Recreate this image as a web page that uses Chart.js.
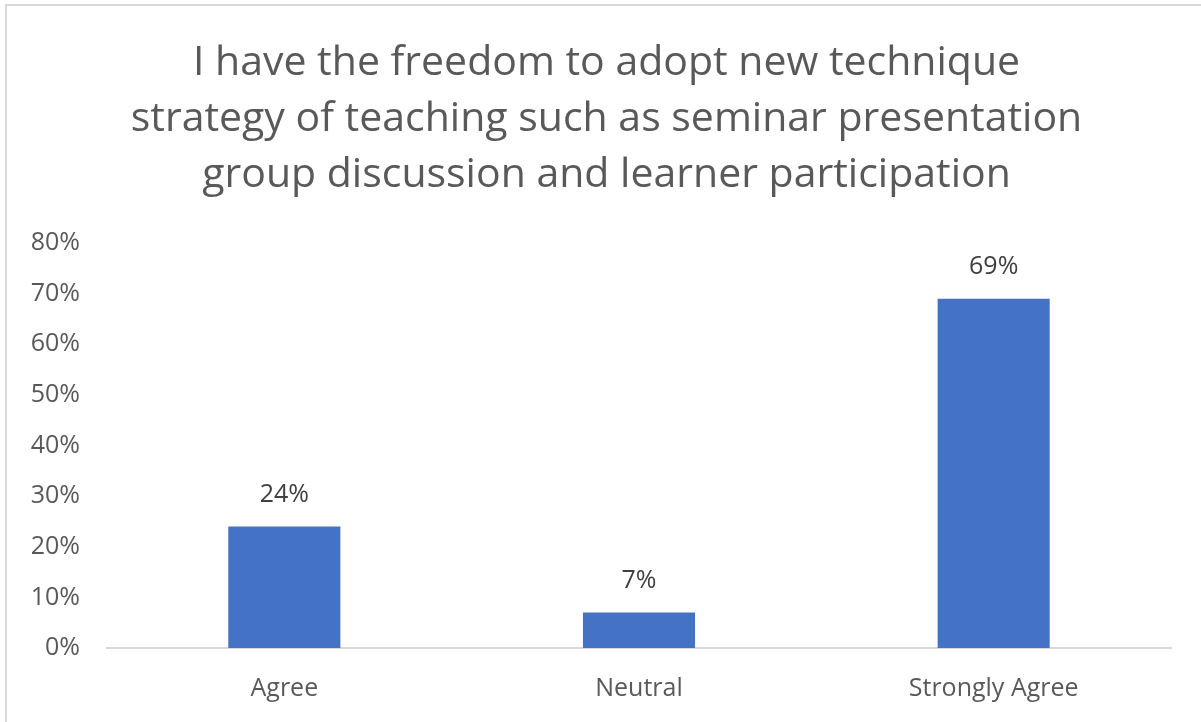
<!DOCTYPE html>
<html>
<head>
<meta charset="utf-8">
<script src="https://cdn.jsdelivr.net/npm/chart.js@4"></script>
<style>
  body { margin: 0; background: #fff; }
  #wrap { position: absolute; left: 0; top: 0; width: 1201px; height: 722px; }
  #lineTop { position: absolute; left: 5px; top: 4px; width: 1196px; height: 2px; background: #d9d9d9; }
  #lineLeft { position: absolute; left: 5px; top: 4px; width: 2px; height: 718px; background: #d9d9d9; }
</style>
</head>
<body>
<div id="wrap"><canvas id="grafico" width="1201" height="722"></canvas></div>
<div id="lineTop"></div>
<div id="lineLeft"></div>
<script>
// dados do grafico
const categorias = ["Agree", "Neutral", "Strongly Agree"];
const valores = [24, 7, 69];
const titulo = [
  "I have the freedom to adopt new technique",
  "strategy of teaching such as seminar presentation",
  "group discussion and learner participation"
];

const fonte = "'Open Sans', 'Noto Sans', sans-serif";

// rotulos em cima das barras
const rotulos = {
  id: "rotulos",
  afterLayout(chart) {
    // centraliza o titulo na moldura e nao so na area do grafico
    if (chart.titleBlock) chart.titleBlock.left = 42;
  },
  afterDatasetsDraw(chart) {
    const ctx = chart.ctx;
    const meta = chart.getDatasetMeta(0);
    ctx.save();
    ctx.fillStyle = "#404040";
    ctx.font = "25px " + fonte;
    ctx.textAlign = "center";
    ctx.textBaseline = "middle";
    meta.data.forEach((bar, i) => {
      ctx.fillText(valores[i] + "%", bar.x, bar.y - 32);
    });
    ctx.restore();
  }
};

new Chart(document.getElementById("grafico"), {
  type: "bar",
  data: {
    labels: categorias,
    datasets: [{
      data: valores,
      backgroundColor: "#4472c4",
      barPercentage: 0.316,
      categoryPercentage: 1
    }]
  },
  options: {
    responsive: false,
    animation: false,
    layout: { padding: { left: 0, right: 30, top: 0, bottom: 12 } },
    plugins: {
      legend: { display: false },
      tooltip: { enabled: false },
      title: {
        display: true,
        text: titulo,
        color: "#595959",
        font: { family: fonte, size: 41, weight: "normal", lineHeight: 1.366 },
        padding: { top: 35, bottom: 40 }
      }
    },
    scales: {
      x: {
        grid: { display: false },
        border: { display: true, color: "#d9d9d9", width: 2 },
        ticks: { color: "#595959", font: { family: fonte, size: 25 }, padding: 18 },
        afterFit(scale) { scale.height = 62; }
      },
      y: {
        min: 0,
        max: 80,
        grid: { display: false, drawTicks: false },
        border: { display: false },
        ticks: {
          stepSize: 10,
          color: "#595959",
          font: { family: fonte, size: 25 },
          padding: 27,
          callback: v => v + "%"
        },
        afterFit(scale) { scale.width = 107; }
      }
    }
  },
  plugins: [rotulos]
});
</script>
</body>
</html>
